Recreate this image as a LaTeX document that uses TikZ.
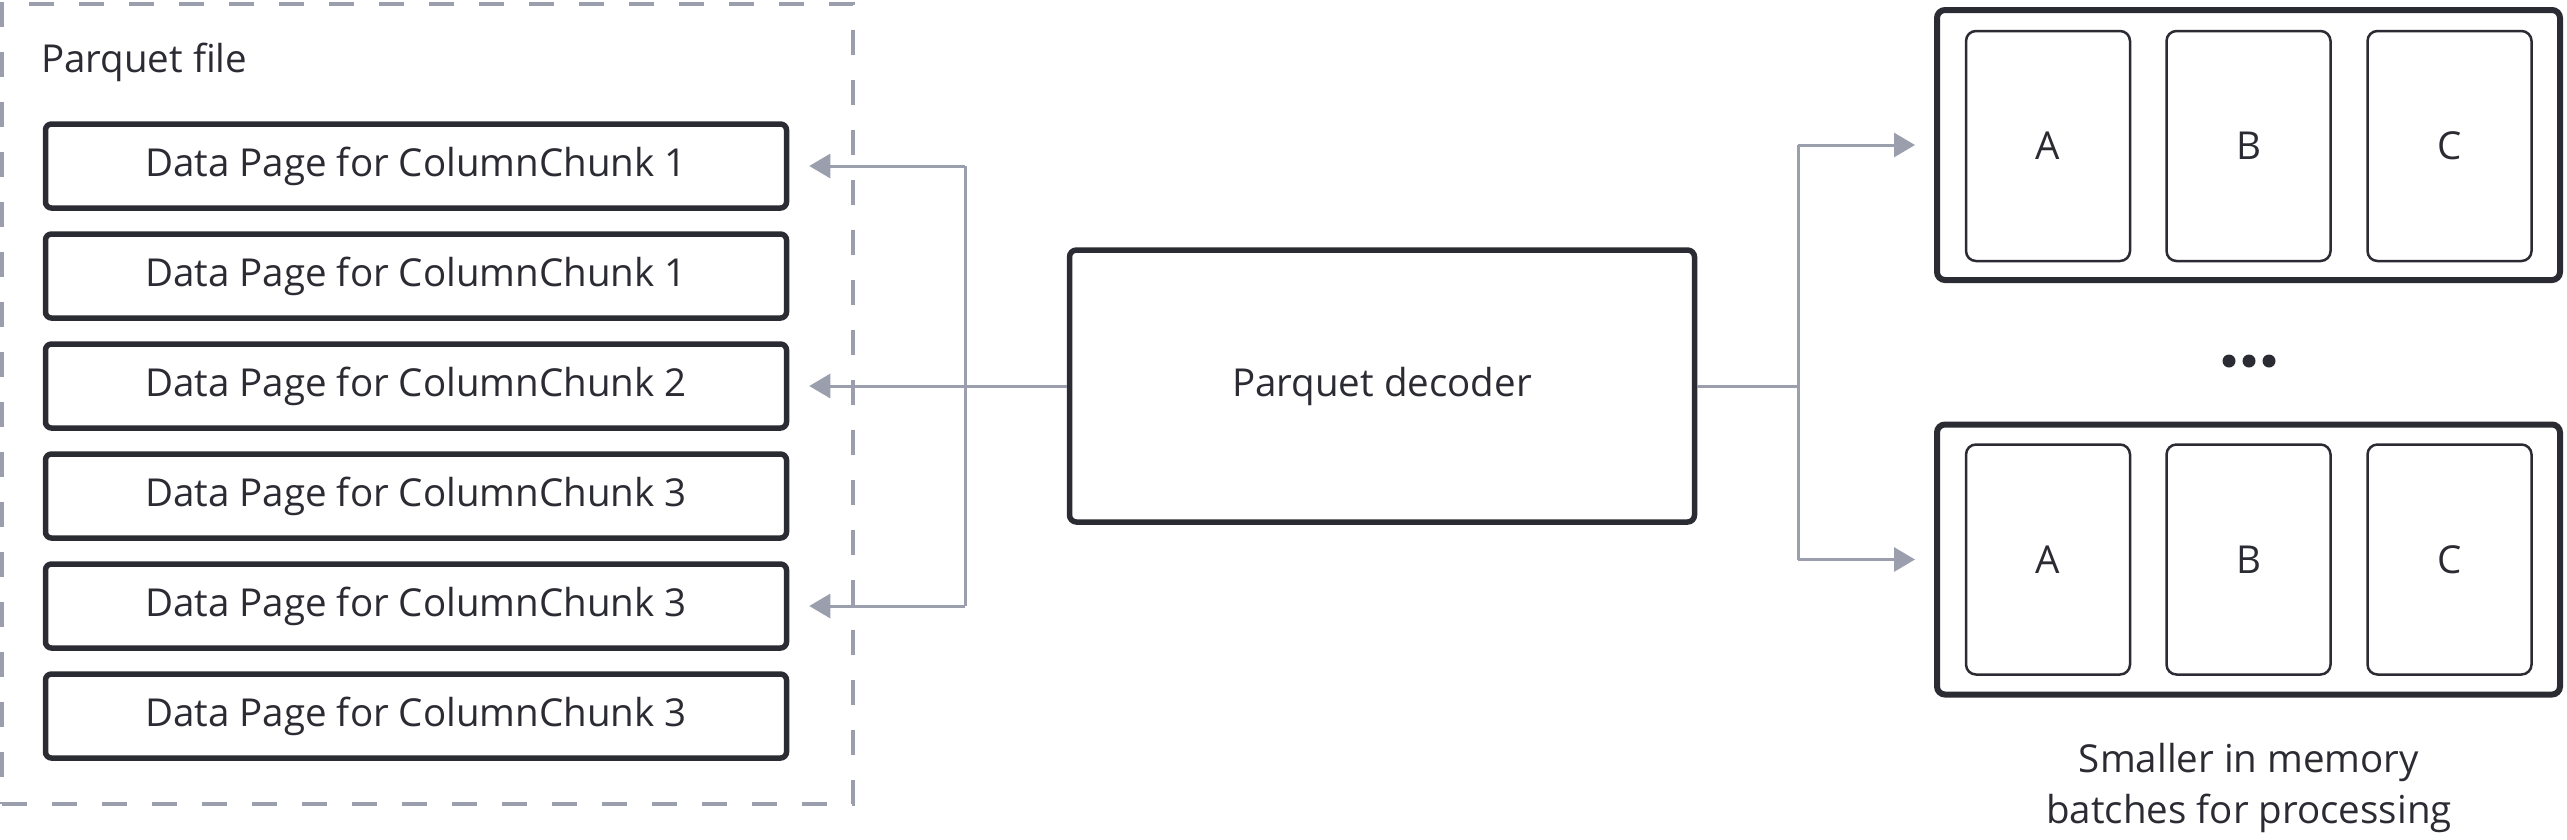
\documentclass[tikz,border=0pt]{standalone}
\usepackage{fontspec}
\setmainfont{Open Sans}
\usetikzlibrary{arrows.meta}
\definecolor{ink}{HTML}{2B2B33}
\definecolor{wire}{HTML}{9B9FAD}
\begin{document}
\begin{tikzpicture}[x=1pt,y=-1pt,
  txt/.style={font=\fontsize{38.5}{51}\selectfont, text=ink},
  pagebox/.style={draw=ink, line width=5.5pt, rounded corners=6pt, minimum width=741pt, minimum height=84pt, inner sep=0pt, txt},
  decbox/.style={draw=ink, line width=5.5pt, rounded corners=7pt, minimum width=625pt, minimum height=272pt, inner sep=0pt, txt},
  batchbox/.style={draw=ink, line width=6pt, rounded corners=8pt, minimum width=623pt, minimum height=270pt, inner sep=0pt},
  colbox/.style={draw=ink, line width=2.5pt, rounded corners=10pt, minimum width=164pt, minimum height=230pt, inner sep=0pt, txt},
  filebox/.style={draw=wire, line width=3.5pt, dash pattern=on 25pt off 25pt, minimum width=851pt, minimum height=800pt, inner sep=0pt},
  conn/.style={draw=wire, line width=3pt},
  arr/.style={conn, -{Triangle[length=21pt,width=24pt]}},
  dot/.style={circle, fill=ink, minimum size=13pt, inner sep=0pt}
]
\useasboundingbox (0,0) rectangle (2567,839);
\node[filebox] (file) at (427.5,404) {};
\node[txt, anchor=west, inner sep=0pt] (ftitle) at (41,62) {Parquet file};
\node[pagebox] (p1) at (416,166) {Data Page for ColumnChunk 1};
\node[pagebox] (p2) at (416,276) {Data Page for ColumnChunk 1};
\node[pagebox] (p3) at (416,386) {Data Page for ColumnChunk 2};
\node[pagebox] (p4) at (416,496) {Data Page for ColumnChunk 3};
\node[pagebox] (p5) at (416,606) {Data Page for ColumnChunk 3};
\node[pagebox] (p6) at (416,716) {Data Page for ColumnChunk 3};
\node[decbox] (dec) at (1382,386) {Parquet decoder};
\node[batchbox] (b1) at (2248.5,145) {};
\node[batchbox] (b2) at (2248.5,559.5) {};
\node[colbox] (b1a) at (2048,146) {A};
\node[colbox] (b1b) at (2248.5,146) {B};
\node[colbox] (b1c) at (2449.5,146) {C};
\node[colbox] (b2a) at (2048,559.5) {A};
\node[colbox] (b2b) at (2248.5,559.5) {B};
\node[colbox] (b2c) at (2449.5,559.5) {C};
\node[dot] (d1) at (2229,361) {};
\node[dot] (d2) at (2249,361) {};
\node[dot] (d3) at (2269,361) {};
\node[txt, align=center] (cap) at (2249,788) {Smaller in memory\\batches for processing};
\coordinate (lj) at (965,386);
\coordinate (rj) at (1798,386);
% left side
\draw[conn] (lj |- p1.east) -- (lj |- p5.east);
\draw[arr, shorten >=20pt] (dec.west) -- (p3.east);
\draw[arr, shorten >=20pt] (lj |- p1.east) -- (p1.east);
\draw[arr, shorten >=20pt] (lj |- p5.east) -- (p5.east);
% right side
\draw[conn] (dec.east) -- (rj);
\draw[conn] (rj |- b1.west) -- (rj |- b2.west);
\draw[arr, shorten >=19pt] (rj |- b1.west) -- (b1.west);
\draw[arr, shorten >=19pt] (rj |- b2.west) -- (b2.west);
\end{tikzpicture}
\end{document}
